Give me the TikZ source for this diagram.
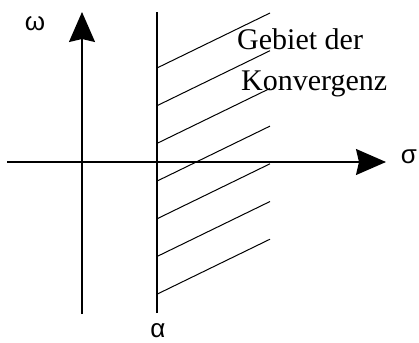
\documentclass[tikz,border=0pt]{standalone}
\usepackage{fontspec}
\setmainfont{Liberation Serif}
\newfontfamily\grfont{Liberation Sans}
\usetikzlibrary{arrows.meta}
\begin{document}
\begin{tikzpicture}[x=1pt,y=-1pt,
  axis/.style={line width=1.5pt},
  arr/.style={-{Stealth[length=30pt,width=26pt,inset=3pt]}},
  hatch/.style={line width=1pt},
  greek/.style={font=\grfont\fontsize{26}{30}\selectfont, inner sep=0pt},
  lbl/.style={font=\fontsize{30}{35}\selectfont, inner sep=0pt, anchor=base west}]
\useasboundingbox[fill=white] (0,0) rectangle (419,342);
\coordinate (hl) at (7,162);
\coordinate (hr) at (386,162);
\coordinate (vb) at (82,314);
\coordinate (vt) at (82,12);
\coordinate (ab) at (157,313);
\coordinate (at) at (157,12);
\foreach \k in {0,...,6}
  \draw[hatch] (157,{68+37.7*\k}) -- ++(113,-55);
\draw[axis,arr] (hl) -- (hr);
\draw[axis,arr] (vb) -- (vt);
\draw[axis] (ab) -- (at);
\node[greek] (omega) at (35,24) {ω};
\node[greek] (sigma) at (409,157) {σ};
\node[greek] (alpha) at (158,331) {α};
\node[lbl] (t1) at (237,50) {Gebiet der};
\node[lbl] (t2) at (241,90) {Konvergenz};
\end{tikzpicture}
\end{document}
